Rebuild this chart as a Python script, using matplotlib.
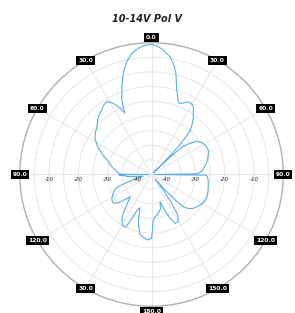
import numpy as np
import matplotlib
matplotlib.use("Agg")
import matplotlib.pyplot as plt

# measured pattern, angle in degrees (clockwise from top), gain in dB
angles_deg = [-180, -176, -172, -169, -166.5, -164.4, -162.5, -161, -159.5, -158, -156, -154,
              -152, -150, -147, -144, -142, -139, -136, -134, -131, -127, -124, -121,
              -116, -112, -110, -107, -104, -101, -98, -95, -92, -90.5, -90, -89.5,
              -86, -84.7, -80, -76, -73, -68, -63.5, -60, -57, -53, -49.7, -45,
              -41, -37.7, -35, -31.6, -28.3, -25.3, -24.5, -23.5, -23, -21.8, -20, -18.7,
              -15.6, -12.4, -9.3, -6, -3, 0, 2.5, 5.4, 8.9, 11.1, 13.6, 16.6,
              20.2, 21, 23, 26.8, 30, 31.7, 34.3, 36.5, 39, 41.7, 43.5, 44.5,
              45.5, 46, 46.5, 47.2, 48.4, 51, 53.7, 57, 60.9, 64, 67.8, 73,
              78.2, 82, 86.4, 89.3, 90, 90.7, 95, 100.5, 107, 113.3, 118, 122.2,
              128.9, 133, 135.4, 137, 139, 141, 143, 145, 147, 148.5, 150.4, 154.3,
              157, 160, 162.6, 165, 170, 175, 177.7, 179, 180]
gain_db = [-23.2, -22.6, -23.5, -24.2, -26.5, -28.3, -31, -33, -32.5, -31.5, -28.5, -25,
           -24.8, -25.2, -26.4, -28.5, -30.4, -33, -34.5, -33, -30.5, -28.7, -28.8, -29.2,
           -30.5, -31.5, -33, -37, -41, -42, -40, -37, -35, -33.8, -44, -34.5,
           -33.3, -33.1, -31.5, -30.4, -29.6, -27, -24.7, -23.2, -22, -21, -20.5, -19,
           -17.8, -17.2, -16.3, -15.8, -17.3, -19.9, -21, -22.1, -21, -17.6, -15.5, -13.4,
           -9.1, -5.6, -3.1, -1.7, -0.8, -0.6, -1.1, -2.3, -4.3, -6.3, -9.5, -14.9,
           -18.5, -18.9, -18.6, -17.2, -17.3, -17.8, -19.7, -21, -23, -25.2, -30.5, -35,
           -40, -44, -40, -35, -30.5, -28, -25.9, -24.8, -24.1, -23.9, -24.0, -24.8,
           -25.8, -26.8, -27.8, -29.6, -44, -26.2, -25.6, -25.3, -24.8, -24.5, -24.8, -25.4,
           -26.6, -28, -29.5, -33, -38, -43, -38, -33, -29, -27.5, -26.5, -26.5,
           -28.8, -32, -35.3, -33, -31.5, -30.5, -29.5, -26, -23.2]

tick_angles = [0, 30, 60, 90, 120, 150, 180, -30, -60, -90, -120, -150]
tick_labels = ["0.0", "30.0", "60.0", "90.0", "120.0", "150.0", "180.0",
               "30.0", "60.0", "90.0", "120.0", "30.0"]
r_labels = [-10, -20, -30, -40]
r_min, r_max = -45, 0

fig = plt.figure(figsize=(2.95, 3.13), dpi=100)
ax = fig.add_axes([0.0668, 0.0214, 0.8936, 0.8422], projection="polar")
ax.set_theta_zero_location("N")
ax.set_theta_direction(-1)
ax.set_ylim(r_min, r_max)

ax.plot(np.radians(angles_deg), gain_db, color="#5aafe3", lw=0.8)

ax.set_xticks(np.radians(np.arange(0, 360, 30)))
ax.set_xticklabels([])
ax.set_yticks(np.arange(-40, 0, 5))
ax.set_yticklabels([])
ax.grid(True, color="#e6e6e6", lw=0.7)
ax.spines["polar"].set_color("#b0b0b0")
ax.spines["polar"].set_linewidth(1.0)

for a, lab in zip(tick_angles, tick_labels):
    r = r_max
    if a == 0 or abs(a) == 180:
        r = r_max + 1.8
    ax.text(np.radians(a), r, lab, ha="center", va="center", color="white",
            fontsize=4.3, fontweight="bold", clip_on=False, zorder=5,
            bbox=dict(boxstyle="square,pad=0.3", fc="black", ec="none"))

for v in r_labels:
    for side in (90, -90):
        ax.text(np.radians(side), v, str(v), ha="center", va="top",
                fontsize=4, style="italic", color="#222222")
        # nudge below the spoke
    pass

# move radial labels slightly below the horizontal spoke
for t in ax.texts[len(tick_labels):]:
    t.set_transform(t.get_transform() + matplotlib.transforms.ScaledTranslation(0, -3 / 100, fig.dpi_scale_trans))

fig.text(0.5, 0.94, "10-14V Pol V", ha="center", va="center", fontsize=7,
         fontweight="bold", style="italic", color="#222222")

fig.savefig("out.png", dpi=100)
